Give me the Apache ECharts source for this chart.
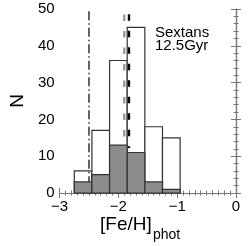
<!DOCTYPE html>
<html><head><meta charset="utf-8">
<script src="https://cdn.jsdelivr.net/npm/echarts@6/dist/echarts.min.js"></script>
<style>html,body{margin:0;padding:0;background:#fff}#c{width:248px;height:246px}</style>
</head><body><div id="c"></div>
<script>
// ---- data ----
const binCenters = [-2.6, -2.3, -2.0, -1.7, -1.4, -1.1];
const binWidth = 0.3;
const countsAll = [6, 17, 36, 45, 18, 15];
const countsFilled = [3, 5, 13, 11, 3, 1];
const xTicks = [-3, -2, -1, 0];
const yTicks = [0, 10, 20, 30, 40, 50];
const refLineX = [-2.5, -1.9, -1.82];
const refLineTop = [49.4, 48.5, 48.6];
const refLineBottom = [3, 12.7, 12.2];
const annotation = ['Sextans', '12.5Gyr'];

const FONT = '"Liberation Sans", Arial, Helvetica, sans-serif';
const chart = echarts.init(document.getElementById('c'), null, {renderer: 'canvas'});

function barRenderer(fill) {
  return function (params, api) {
    const c = api.value(0), v = api.value(1);
    const p0 = api.coord([c - binWidth / 2, v]);
    const p1 = api.coord([c + binWidth / 2, 0]);
    return {
      type: 'rect',
      shape: {x: p0[0], y: p0[1], width: p1[0] - p0[0], height: p1[1] - p0[1]},
      style: {fill: fill, stroke: '#333', lineWidth: 1.2}
    };
  };
}

const minus = v => String(v).replace('-', '\u2212');
const axisColor = '#777';

const xCommon = {
  type: 'value', min: xTicks[0], max: xTicks[xTicks.length - 1], interval: 1,
  splitLine: {show: false},
  axisLine: {show: true, lineStyle: {color: axisColor, width: 1.2}},
  axisTick: {show: true, inside: true, length: 5, lineStyle: {color: axisColor}},
  minorTick: {show: true, splitNumber: 10, length: 2.5, lineStyle: {color: axisColor}},
};
const yCommon = {
  type: 'value', min: yTicks[0], max: yTicks[yTicks.length - 1], interval: 10,
  splitLine: {show: false},
  axisLine: {show: true, lineStyle: {color: axisColor, width: 1.2}},
  axisTick: {show: true, inside: true, length: 5, lineStyle: {color: axisColor}},
  minorTick: {show: true, splitNumber: 5, length: 2.5, lineStyle: {color: axisColor}},
};

const refStyles = [
  {color: '#222', width: 1.4, type: [9, 3, 1.5, 3]},
  {color: '#999', width: 2.4, type: [6.5, 10]},
  {color: '#000', width: 2.4, type: [6.5, 10]}
];

const refSeries = refLineX.map((x, i) => ({
  type: 'line', xAxisIndex: 0, yAxisIndex: 0, symbol: 'none', z: 3,
  data: [[x, refLineTop[i]], [x, refLineBottom[i]]],
  lineStyle: refStyles[i], silent: true, animation: false
}));

chart.setOption({
  animation: false,
  backgroundColor: '#fff',
  grid: {left: 50, right: 12, top: 9, bottom: 53, containLabel: false},
  xAxis: [
    Object.assign({}, xCommon, {position: 'bottom',
      axisLabel: {show: true, color: '#000', fontSize: 15, fontFamily: FONT, margin: 6, formatter: minus}}),
    Object.assign({}, xCommon, {position: 'top', axisLabel: {show: false}})
  ],
  yAxis: [
    Object.assign({}, yCommon, {position: 'left',
      name: 'N', nameLocation: 'middle', nameGap: 30, nameRotate: 90,
      nameTextStyle: {fontSize: 19, fontFamily: FONT, color: '#000'},
      axisLabel: {show: true, color: '#000', fontSize: 15, fontFamily: FONT, margin: 5}}),
    Object.assign({}, yCommon, {position: 'right', axisLabel: {show: false}})
  ],
  series: [
    {type: 'custom', renderItem: barRenderer('#fff'), xAxisIndex: 0, yAxisIndex: 0, z: 2,
     data: binCenters.map((c, i) => [c, countsAll[i]])},
    ...refSeries,
    {type: 'custom', renderItem: barRenderer('#8c8c8c'), xAxisIndex: 0, yAxisIndex: 0, z: 4,
     data: binCenters.map((c, i) => [c, countsFilled[i]])}
  ],
  graphic: [
    {type: 'text', left: 155, top: 25, z: 10,
     style: {text: annotation.join('\n'), font: '15px ' + FONT, fill: '#000', lineHeight: 13}},
    {type: 'text', left: 100, top: 215, z: 10,
     style: {text: '[Fe/H]', font: '19px ' + FONT, fill: '#000'}},
    {type: 'text', left: 153, top: 228, z: 10,
     style: {text: 'phot', font: '14px ' + FONT, fill: '#000'}}
  ]
});
</script>
</body></html>
